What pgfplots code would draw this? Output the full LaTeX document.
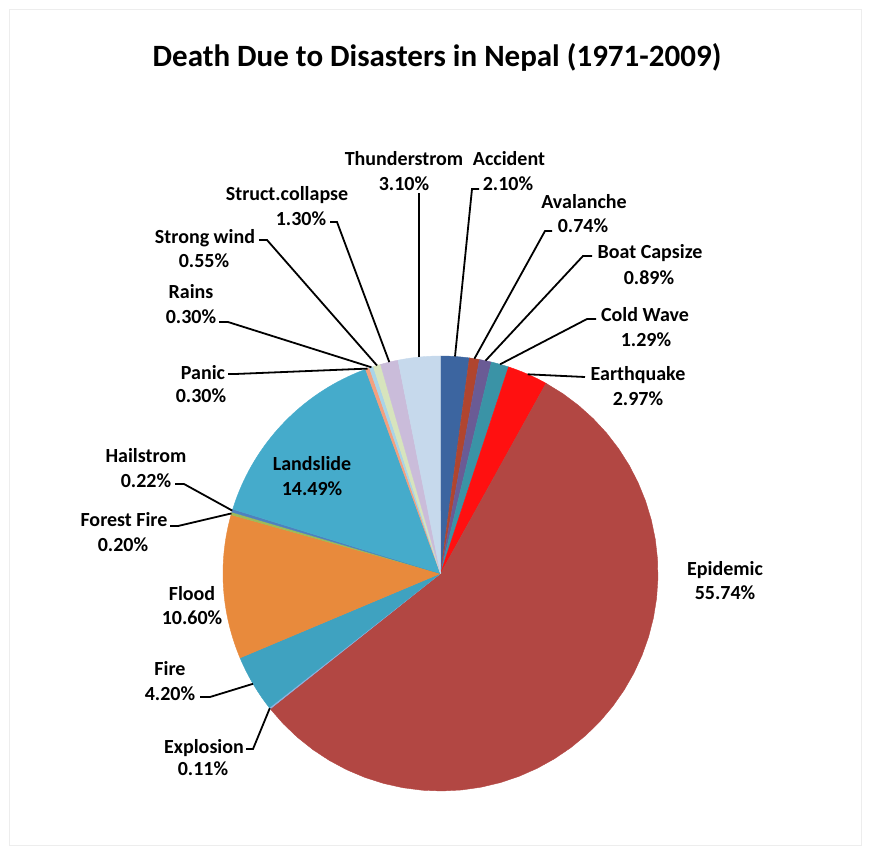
\documentclass[border=0pt]{standalone}
\usepackage{fontspec}
\setmainfont{Carlito}
\usepackage{pgfplots}
\usepackage{pgfplotstable}
\pgfplotsset{compat=1.18}

\definecolor{cAcc}{HTML}{3C65A0}
\definecolor{cAva}{HTML}{B0452F}
\definecolor{cBoat}{HTML}{6A5B95}
\definecolor{cCold}{HTML}{3A93A6}
\definecolor{cEq}{HTML}{FF1010}
\definecolor{cEpi}{HTML}{B24743}
\definecolor{cExp}{HTML}{8DB3E2}
\definecolor{cFire}{HTML}{3FA2C0}
\definecolor{cFlood}{HTML}{E88A3C}
\definecolor{cForest}{HTML}{9BBB59}
\definecolor{cHail}{HTML}{4F81BD}
\definecolor{cLand}{HTML}{45ABCB}
\definecolor{cPanic}{HTML}{F4A07E}
\definecolor{cRains}{HTML}{A9D4E8}
\definecolor{cStrong}{HTML}{D7E4BD}
\definecolor{cStruct}{HTML}{CABCDA}
\definecolor{cThun}{HTML}{C6D9EC}

% share of deaths (%), clockwise from 12 o'clock
\pgfplotstableread[col sep=comma]{
name,val,col
Accident,2.10,cAcc
Avalanche,0.74,cAva
Boat Capsize,0.89,cBoat
Cold Wave,1.29,cCold
Earthquake,2.97,cEq
Epidemic,55.74,cEpi
Explosion,0.11,cExp
Fire,4.20,cFire
Flood,10.60,cFlood
Forest Fire,0.20,cForest
Hailstrom,0.22,cHail
Landslide,14.49,cLand
Panic,0.30,cPanic
Rains,0.30,cRains
Strong wind,0.55,cStrong
Struct.collapse,1.30,cStruct
Thunderstrom,3.10,cThun
}\piedata

\def\total{0}
\pgfplotsforeachungrouped \i in {0,...,16}{%
  \pgfplotstablegetelem{\i}{val}\of\piedata
  \pgfmathsetmacro\total{\total+\pgfplotsretval}%
}

\newcommand\labfont{\fontsize{20bp}{24bp}\selectfont\bfseries}
\tikzset{lab/.style={font=\labfont, anchor=base, inner sep=0pt, text=black}}

\begin{document}
\begin{tikzpicture}
\begin{axis}[hide axis, x=1bp, y=1bp, xmin=0, xmax=869, ymin=0, ymax=852,
  y dir=reverse, clip=false]
\path (axis cs:0,0) rectangle (axis cs:869,852);
\draw[black!7, line width=1bp] (axis cs:9,9) rectangle (axis cs:861,845);

\def\tstart{0}
\pgfplotsforeachungrouped \i in {0,...,16}{%
  \pgfplotstablegetelem{\i}{val}\of\piedata \let\v\pgfplotsretval
  \pgfplotstablegetelem{\i}{col}\of\piedata \let\c\pgfplotsretval
  \pgfmathsetmacro\tend{\tstart+\v/\total*360}%
  \edef\doslice{\noexpand\addplot[fill=\c, draw=\c, line width=0.4bp, mark=none,
     domain=\tstart:\tend, samples=40]
     ({440.5+217.5*sin(x)},{573.5-217.5*cos(x)}) -- (axis cs:440.5,573.5) -- cycle;}%
  \doslice
  \global\let\tstart\tend
}

% leader lines
\pgfplotsset{leader/.style={black, line width=1.8bp, mark=none}}
\addplot[leader] coordinates {(419.2,357) (419.2,193)};
\addplot[leader] coordinates {(455,356.5) (472,189) (479,189)};
\addplot[leader] coordinates {(474.4,358.7) (545,231) (552,231)};
\addplot[leader] coordinates {(485.5,360.7) (583,256) (592,256)};
\addplot[leader] coordinates {(500.1,364.3) (587,319) (596,319)};
\addplot[leader] coordinates {(527.7,374.3) (585,377)};
\addplot[leader] coordinates {(269.8,708.2) (253,749) (246,749)};
\addplot[leader] coordinates {(253,683.8) (210,697) (200,697)};
\addplot[leader] coordinates {(231.5,513.4) (178,526) (170,526)};
\addplot[leader] coordinates {(232.3,510.6) (184,484) (175,484)};
\addplot[leader] coordinates {(367.5,368.6) (235,374) (228,374)};
\addplot[leader] coordinates {(371.4,367.3) (228,322) (219,322)};
\addplot[leader] coordinates {(377,365.5) (267,240) (259,240)};
\addplot[leader] coordinates {(389.3,362.1) (337,222) (330,222)};

% labels
\node[font=\fontsize{31bp}{36bp}\selectfont\bfseries, anchor=base, inner sep=0pt] at (axis cs:437,66) {Death Due to Disasters in Nepal (1971-2009)};
\node[lab] at (axis cs:404,165) {Thunderstrom};
\node[lab] at (axis cs:404,190) {3.10\%};
\node[lab] at (axis cs:509,165) {Accident};
\node[lab] at (axis cs:508,190) {2.10\%};
\node[lab] at (axis cs:584,208) {Avalanche};
\node[lab] at (axis cs:583,232) {0.74\%};
\node[lab] at (axis cs:650,258) {Boat Capsize};
\node[lab] at (axis cs:649,284) {0.89\%};
\node[lab] at (axis cs:645,321) {Cold Wave};
\node[lab] at (axis cs:646,346) {1.29\%};
\node[lab] at (axis cs:638,380) {Earthquake};
\node[lab] at (axis cs:638,405) {2.97\%};
\node[lab] at (axis cs:725,575) {Epidemic};
\node[lab] at (axis cs:725,599) {55.74\%};
\node[lab] at (axis cs:204,753) {Explosion};
\node[lab] at (axis cs:203,775) {0.11\%};
\node[lab] at (axis cs:170,675) {Fire};
\node[lab] at (axis cs:170,700) {4.20\%};
\node[lab] at (axis cs:192,600) {Flood};
\node[lab] at (axis cs:192,624) {10.60\%};
\node[lab] at (axis cs:124,526) {Forest Fire};
\node[lab] at (axis cs:123,551) {0.20\%};
\node[lab] at (axis cs:146,462) {Hailstrom};
\node[lab] at (axis cs:146,487) {0.22\%};
\node[lab] at (axis cs:312,470) {Landslide};
\node[lab] at (axis cs:312,495) {14.49\%};
\node[lab] at (axis cs:203,379) {Panic};
\node[lab] at (axis cs:201,402) {0.30\%};
\node[lab] at (axis cs:191,298) {Rains};
\node[lab] at (axis cs:191,323) {0.30\%};
\node[lab] at (axis cs:205,243) {Strong wind};
\node[lab] at (axis cs:204,267) {0.55\%};
\node[lab] at (axis cs:287,200) {Struct.collapse};
\node[lab] at (axis cs:301,225) {1.30\%};
\end{axis}
\end{tikzpicture}
\end{document}
